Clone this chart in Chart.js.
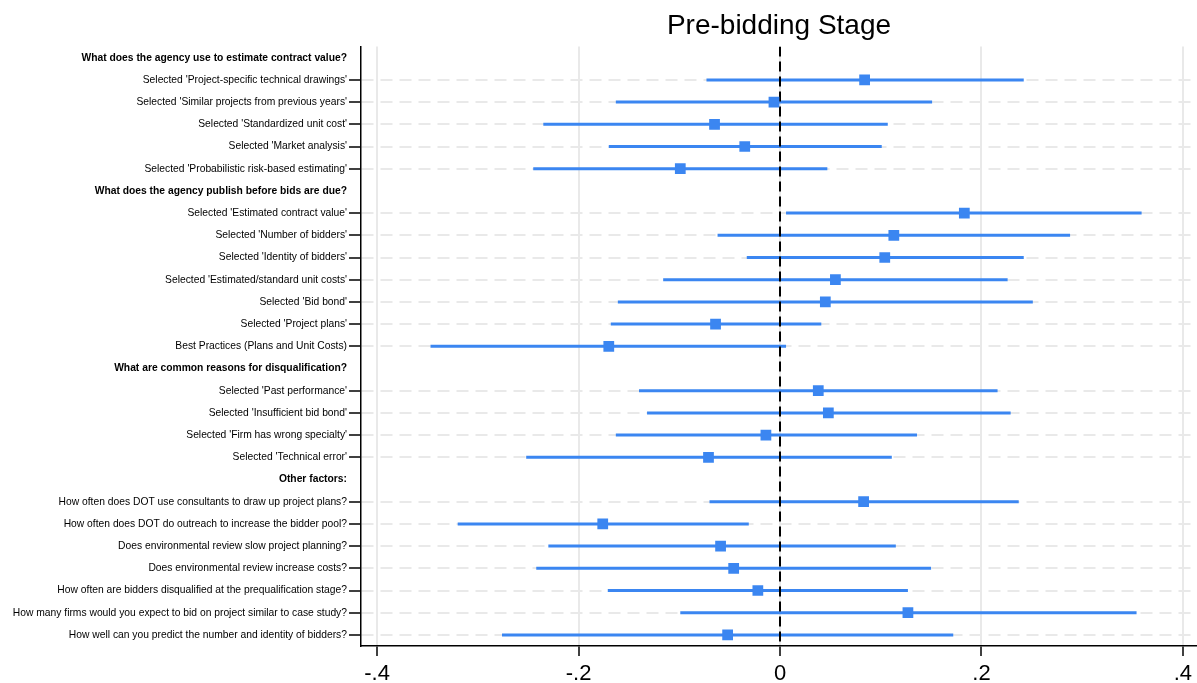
<!DOCTYPE html>
<html lang="en">
<head>
    <meta charset="UTF-8">
    <title>Pre-bidding Stage</title>
    <script src="https://cdn.jsdelivr.net/npm/chart.js"></script>
    <style>
        * {
            margin: 0;
            padding: 0;
            box-sizing: border-box;
        }
        body {
            background: #fff;
            width: 1197px;
            height: 683px;
            overflow: hidden;
        }
    </style>
</head>
<body>
    <canvas id="myChart" width="1197" height="683"></canvas>
    <script>
        // rows top to bottom; headers have null estimates
        const rowLabels = [
            "What does the agency use to estimate contract value?",
            "Selected 'Project-specific technical drawings'",
            "Selected 'Similar projects from previous years'",
            "Selected 'Standardized unit cost'",
            "Selected 'Market analysis'",
            "Selected 'Probabilistic risk-based estimating'",
            "What does the agency publish before bids are due?",
            "Selected 'Estimated contract value'",
            "Selected 'Number of bidders'",
            "Selected 'Identity of bidders'",
            "Selected 'Estimated/standard unit costs'",
            "Selected 'Bid bond'",
            "Selected 'Project plans'",
            "Best Practices (Plans and Unit Costs)",
            "What are common reasons for disqualification?",
            "Selected 'Past performance'",
            "Selected 'Insufficient bid bond'",
            "Selected 'Firm has wrong specialty'",
            "Selected 'Technical error'",
            "Other factors:",
            "How often does DOT use consultants to draw up project plans?",
            "How often does DOT do outreach to increase the bidder pool?",
            "Does environmental review slow project planning?",
            "Does environmental review increase costs?",
            "How often are bidders disqualified at the prequalification stage?",
            "How many firms would you expect to bid on project similar to case study?",
            "How well can you predict the number and identity of bidders?"
        ];
        const estimates = [null, 0.084, -0.006, -0.065, -0.035, -0.099,
            null, 0.183, 0.113, 0.104, 0.055, 0.045, -0.064, -0.170,
            null, 0.038, 0.048, -0.014, -0.071,
            null, 0.083, -0.176, -0.059, -0.046, -0.022, 0.127, -0.052];
        const lowerCI = [null, -0.073, -0.163, -0.235, -0.170, -0.245,
            null, 0.006, -0.062, -0.033, -0.116, -0.161, -0.168, -0.347,
            null, -0.140, -0.132, -0.163, -0.252,
            null, -0.070, -0.320, -0.230, -0.242, -0.171, -0.099, -0.276];
        const upperCI = [null, 0.242, 0.151, 0.107, 0.101, 0.047,
            null, 0.359, 0.288, 0.242, 0.226, 0.251, 0.041, 0.006,
            null, 0.216, 0.229, 0.136, 0.111,
            null, 0.237, -0.031, 0.115, 0.150, 0.127, 0.354, 0.172];
        const xTicks = [-0.4, -0.2, 0, 0.2, 0.4];
        const refLine = 0;

        const isHeader = i => estimates[i] === null;
        const blue = '#3b86f1';
        const font = '"Liberation Sans", Arial, Helvetica, sans-serif';

        // error bars as one line with gaps between rows
        const ciData = [];
        rowLabels.forEach((_, i) => {
            if (isHeader(i)) return;
            ciData.push({x: lowerCI[i], y: i}, {x: upperCI[i], y: i}, {x: null, y: null});
        });
        const pointData = [];
        rowLabels.forEach((_, i) => {
            if (!isHeader(i)) pointData.push({x: estimates[i], y: i});
        });

        const ctx = document.getElementById('myChart').getContext('2d');
        new Chart(ctx, {
            type: 'line',
            data: {
                datasets: [
                    {
                        data: pointData,
                        showLine: false,
                        pointStyle: 'rect',
                        pointRadius: 7.6,
                        pointBorderWidth: 0,
                        pointBackgroundColor: blue,
                        order: 0
                    },
                    {
                        data: [{x: refLine, y: -0.5}, {x: refLine, y: rowLabels.length - 0.5}],
                        borderColor: '#000',
                        borderWidth: 2,
                        borderDash: [10, 5],
                        pointRadius: 0,
                        order: 1
                    },
                    {
                        data: ciData,
                        borderColor: blue,
                        borderWidth: 3,
                        pointRadius: 0,
                        spanGaps: false,
                        order: 2
                    }
                ]
            },
            options: {
                responsive: false,
                animation: false,
                layout: { padding: 0, autoPadding: false },
                scales: {
                    x: {
                        type: 'linear',
                        min: -0.416,
                        max: 0.414,
                        afterBuildTicks: scale => {
                            scale.ticks = xTicks.map(v => ({value: v}));
                        },
                        afterFit: scale => {
                            scale.height = 37;
                            scale.paddingLeft = 0;
                            scale.paddingRight = 0;
                        },
                        ticks: {
                            color: '#000',
                            padding: 5,
                            font: { family: font, size: 22 },
                            callback: v => v === 0 ? '0' : v.toFixed(1).replace('0.', '.')
                        },
                        grid: {
                            color: '#e9e9e9',
                            lineWidth: 2,
                            tickColor: '#000',
                            tickLength: 10,
                            tickWidth: 1.5
                        },
                        border: { color: '#000', width: 1.5 }
                    },
                    y: {
                        type: 'linear',
                        reverse: true,
                        min: -0.5,
                        max: rowLabels.length - 0.5,
                        afterBuildTicks: scale => {
                            scale.ticks = rowLabels.map((_, i) => ({value: i}));
                        },
                        afterFit: scale => {
                            scale.width = 361;
                            scale.paddingTop = 0;
                            scale.paddingBottom = 0;
                        },
                        ticks: {
                            autoSkip: false,
                            color: '#000',
                            padding: 2,
                            font: c => ({ family: font, size: 10.3, weight: isHeader(c.index) ? 'bold' : 'normal' }),
                            callback: v => rowLabels[v]
                        },
                        grid: {
                            color: c => (c.tick && isHeader(c.tick.value)) ? 'rgba(0,0,0,0)' : '#e9e9e9',
                            lineWidth: 2,
                            tickColor: c => (c.tick && isHeader(c.tick.value)) ? 'rgba(0,0,0,0)' : '#000',
                            tickLength: 12,
                            tickWidth: 1.5
                        },
                        border: { color: '#000', width: 1.5, dash: [12, 7] }
                    }
                },
                plugins: {
                    legend: { display: false },
                    tooltip: { enabled: false },
                    title: {
                        display: true,
                        text: 'Pre-bidding Stage',
                        fullSize: false,
                        color: '#000',
                        font: { family: font, size: 28, weight: 'normal' },
                        padding: { top: 9, bottom: 4 }
                    }
                }
            }
        });
    </script>
</body>
</html>
